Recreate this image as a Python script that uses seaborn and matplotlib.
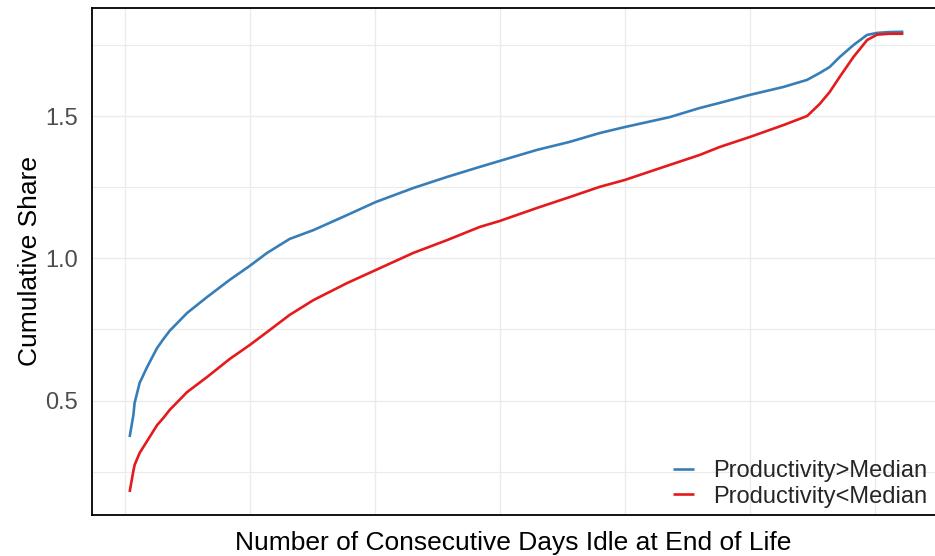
import numpy as np
import pandas as pd
import matplotlib
matplotlib.use("Agg")
import matplotlib.pyplot as plt
import seaborn as sns

# ---- data ----
days = [4, 7, 8, 12, 18, 23, 26, 31, 36, 50, 66, 84, 100, 114, 132, 151, 178,
        201, 231, 258, 284, 300, 330, 356, 380, 400, 436, 460, 476, 500, 527,
        546, 556, 564, 572, 583, 594, 602, 612, 623]
high_prod = [0.372, 0.449, 0.492, 0.562, 0.618, 0.660, 0.685, 0.716, 0.745, 0.808,
             0.864, 0.924, 0.973, 1.019, 1.068, 1.099, 1.152, 1.198, 1.247, 1.286,
             1.321, 1.342, 1.381, 1.409, 1.440, 1.461, 1.496, 1.528, 1.546, 1.574,
             1.602, 1.627, 1.651, 1.672, 1.707, 1.749, 1.785, 1.792, 1.795, 1.796]
low_prod = [0.179, 0.253, 0.274, 0.316, 0.358, 0.393, 0.414, 0.439, 0.467, 0.530,
            0.583, 0.646, 0.695, 0.741, 0.801, 0.853, 0.913, 0.959, 1.019, 1.064,
            1.110, 1.131, 1.177, 1.215, 1.251, 1.275, 1.328, 1.363, 1.391, 1.426,
            1.468, 1.500, 1.542, 1.584, 1.637, 1.707, 1.767, 1.786, 1.789, 1.789]
groups = ["Productivity>Median", "Productivity<Median"]
colors = ["#377EB8", "#E41A1C"]
y_ticks = [0.5, 1.0, 1.5]
x_label = "Number of Consecutive Days Idle at End of Life"
y_label = "Cumulative Share"

df = pd.concat([
    pd.DataFrame({"days": days, "share": high_prod, "group": groups[0]}),
    pd.DataFrame({"days": days, "share": low_prod, "group": groups[1]}),
])

sns.set_style("white")
plt.rcParams["font.family"] = ["Liberation Sans", "DejaVu Sans"]

W, H = 935, 556
fig = plt.figure(figsize=(W / 100, H / 100), dpi=100)
ax = fig.add_axes([92 / W, (H - 515) / H, (935 - 92) / W, (515 - 8) / H])

sns.lineplot(data=df, x="days", y="share", hue="group", hue_order=groups,
             palette=colors, linewidth=1.9, ax=ax, sort=True, estimator=None)
for ln in ax.get_lines():
    ln.set_solid_joinstyle("round")
    ln.set_solid_capstyle("butt")

ax.set_xlim(-26.1, 648.3)
ax.set_ylim(0.098, 1.8795)

ax.set_xticks([0, 100, 200, 300, 400, 500, 600])
ax.set_xticklabels([])
ax.tick_params(axis="x", length=0)
ax.set_yticks(y_ticks)
ax.set_yticklabels([f"{v:.1f}" for v in y_ticks])
ax.set_yticks([0.25, 0.75, 1.25, 1.75], minor=True)
ax.tick_params(axis="y", which="major", length=5, width=1.3, color="#333333",
               labelsize=17, labelcolor="#4D4D4D", pad=5)
ax.tick_params(axis="y", which="minor", length=0)

ax.grid(True, which="major", color="#EBEBEB", linewidth=1.0)
ax.grid(True, which="minor", axis="y", color="#EBEBEB", linewidth=0.8)
ax.set_axisbelow(True)

for side in ["left", "top", "bottom"]:
    ax.spines[side].set_color("black")
    ax.spines[side].set_linewidth(1.3)
ax.spines["right"].set_visible(False)

ax.set_xlabel(x_label, fontsize=19, color="black", labelpad=8)
ax.set_ylabel(y_label, fontsize=19, color="black", labelpad=2.5)

handles, labels = ax.get_legend_handles_labels()
leg = ax.legend(handles, labels, loc="lower right", frameon=False, fontsize=17,
                handlelength=0.9, handletextpad=0.8, labelspacing=0.16,
                borderaxespad=0.0, bbox_to_anchor=(1.0015, -0.004))

fig.savefig("out.png", dpi=100)
